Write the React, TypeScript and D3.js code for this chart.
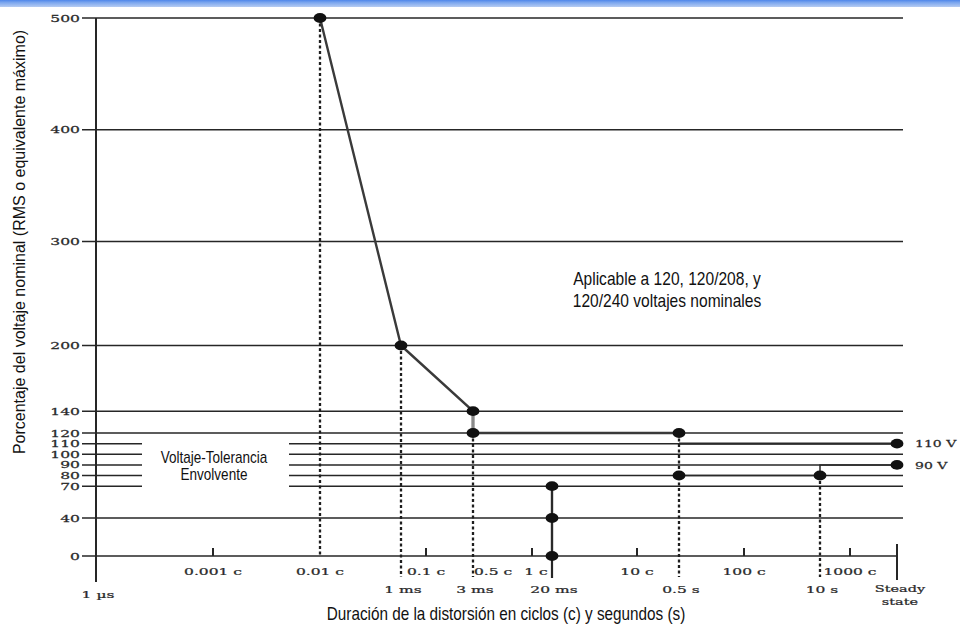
import React from "react";
import * as d3 from "d3";

// one cycle at 60 Hz, expressed in seconds
const CYCLE = 1 / 60;
// placeholder duration standing for "steady state"
const STEADY = 100;

const yTicks = [0, 40, 70, 80, 90, 100, 110, 120, 140, 200, 300, 400, 500];

const cycleTicks = [
  { c: 0.001, label: "0.001 c", tick: true },
  { c: 0.01, label: "0.01 c", tick: false },
  { c: 0.1, label: "0.1 c", tick: true },
  { c: 0.5, label: "0.5 c", tick: false },
  { c: 1, label: "1 c", tick: true },
  { c: 10, label: "10 c", tick: true },
  { c: 100, label: "100 c", tick: true },
  { c: 1000, label: "1000 c", tick: true },
];

const secondLabels = [
  { t: 1e-6, label: "1 µs" },
  { t: 1e-3, label: "1 ms" },
  { t: 3e-3, label: "3 ms" },
  { t: 0.02, label: "20 ms" },
  { t: 0.5, label: "0.5 s" },
  { t: 10, label: "10 s" },
];

// upper envelope (time in s, % of nominal)
const upperCurve: [number, number][] = [
  [0.01 * CYCLE, 500],
  [1e-3, 200],
  [3e-3, 140],
  [3e-3, 120],
  [0.5, 120],
];
const upperSteady: [number, number][] = [
  [0.5, 110],
  [STEADY, 110],
];
// lower envelope
const lowerDrop: [number, number][] = [
  [0.02, 0],
  [0.02, 70],
];
const lowerCurve: [number, number][] = [
  [0.5, 80],
  [10, 80],
  [10, 90],
  [STEADY, 90],
];

const dots: [number, number][] = [
  [0.01 * CYCLE, 500],
  [1e-3, 200],
  [3e-3, 140],
  [3e-3, 120],
  [0.5, 120],
  [STEADY, 110],
  [STEADY, 90],
  [0.5, 80],
  [10, 80],
  [0.02, 70],
  [0.02, 40],
  [0.02, 0],
];

// dotted drop lines: time, starting value, continue below axis
const drops = [
  { t: 0.01 * CYCLE, v: 500, below: false },
  { t: 1e-3, v: 200, below: true },
  { t: 3e-3, v: 120, below: true },
  { t: 0.5, v: 120, below: true },
  { t: 10, v: 80, below: true },
];

const endLabels = [
  { v: 110, label: "110 V" },
  { v: 90, label: "90 V" },
];

// non-uniform logarithmic time axis of the original figure (anchors)
const axisTimes = [
  1e-6, 0.001 * CYCLE, 0.01 * CYCLE, 1e-3, 0.1 * CYCLE, 3e-3, 0.5 * CYCLE,
  1 * CYCLE, 0.02, 10 * CYCLE, 0.5, 100 * CYCLE, 10, 1000 * CYCLE, STEADY,
];

export default function App() {
  const x = d3
    .scaleLog()
    .domain(axisTimes)
    .range([96, 213, 320, 401, 426, 473, 493, 532, 552, 637, 679, 744, 820, 850, 897]);
  const y = d3
    .scaleLinear()
    .domain([0, 40, 120, 200, 300, 500])
    .range([556, 518, 433, 345.5, 241.5, 18]);

  const line = d3
    .line<[number, number]>()
    .x((d) => x(d[0]))
    .y((d) => y(d[1]));

  const serif = "'DejaVu Serif', serif";
  const sans = "'Liberation Sans', Arial, sans-serif";
  const ink = "#262626";
  const labelInk = "#2a2a2a";
  const xLeft = 82;
  const xRight = 903;
  const yBelow = 577;

  const condensed = (cx: number, cy: number, size: number, sx: number, txt: string) => (
    <text
      transform={`translate(${cx},${cy}) scale(${sx},1)`}
      textAnchor="middle"
      fontFamily={sans}
      fontSize={size}
      fill="#111"
    >
      {txt}
    </text>
  );

  const serifProps = {
    fontFamily: serif,
    fill: labelInk,
    stroke: labelInk,
    strokeWidth: 0.25,
  };

  return (
    <div style={{ position: "absolute", left: 0, top: 0 }}>
      <svg width={960} height={625} style={{ display: "block", background: "#fff" }}>
        <defs>
          <linearGradient id="topbar" x1="0" y1="0" x2="0" y2="1">
            <stop offset="0" stopColor="#4f86ea" />
            <stop offset="0.35" stopColor="#7aa5ee" />
            <stop offset="1" stopColor="#b6ccf2" />
          </linearGradient>
        </defs>
        <rect x={0} y={0} width={960} height={7} fill="url(#topbar)" />

        {/* horizontal grid lines */}
        {yTicks.map((v) => (
          <line
            key={"g" + v}
            x1={xLeft}
            x2={v === 0 ? x(STEADY) : xRight}
            y1={y(v)}
            y2={y(v)}
            stroke={ink}
            strokeWidth={1.5}
          />
        ))}

        {/* white box that interrupts grid lines */}
        <rect x={142} y={437} width={147} height={54} fill="#fff" />

        {/* y axis */}
        <line x1={96} x2={96} y1={y(500)} y2={582} stroke={ink} strokeWidth={2} />

        {/* y tick labels */}
        {yTicks.map((v) => (
          <text
            key={"yl" + v}
            transform={`translate(80,${y(v) + 3.6}) scale(1.62,1)`}
            textAnchor="end"
            fontSize={9.6}
            {...serifProps}
          >
            {v}
          </text>
        ))}

        {/* x ticks (cycles) */}
        {cycleTicks
          .filter((d) => d.tick)
          .map((d) => (
            <line
              key={"xt" + d.c}
              x1={x(d.c * CYCLE)}
              x2={x(d.c * CYCLE)}
              y1={y(0)}
              y2={y(0) - 8}
              stroke={ink}
              strokeWidth={2}
            />
          ))}

        {/* steady state tick */}
        <line x1={x(STEADY)} x2={x(STEADY)} y1={544} y2={580} stroke={ink} strokeWidth={2} />

        {/* dotted drop lines */}
        {drops.map((d) => (
          <line
            key={"dr" + d.t}
            x1={x(d.t)}
            x2={x(d.t)}
            y1={y(d.v)}
            y2={d.below ? yBelow : y(0)}
            stroke="#1e1e1e"
            strokeWidth={2.3}
            strokeDasharray="3,2.5"
          />
        ))}

        {/* 20 ms solid drop */}
        <line x1={x(0.02)} x2={x(0.02)} y1={y(70)} y2={578} stroke={ink} strokeWidth={2.2} />

        {/* envelope curves */}
        <path d={line(upperCurve) || ""} fill="none" stroke="#3a3a3a" strokeWidth={2.4} />
        <path d={line(upperSteady) || ""} fill="none" stroke="#2a2a2a" strokeWidth={2.2} />
        <path d={line(lowerDrop) || ""} fill="none" stroke="#2a2a2a" strokeWidth={2.2} />
        <path d={line(lowerCurve) || ""} fill="none" stroke="#2a2a2a" strokeWidth={1.5} />
        <line
          x1={x(3e-3)}
          x2={x(3e-3)}
          y1={y(140)}
          y2={y(120)}
          stroke="#8a8a8a"
          strokeWidth={3}
        />

        {/* dots */}
        {dots.map((d, i) => (
          <ellipse key={"d" + i} cx={x(d[0])} cy={y(d[1])} rx={6.4} ry={4.9} fill="#111" />
        ))}

        {/* cycle labels */}
        {cycleTicks.map((d) => (
          <text
            key={"cl" + d.c}
            transform={`translate(${x(d.c * CYCLE) + (d.c === 1 ? 4 : 0)},574.5) scale(1.55,1)`}
            textAnchor="middle"
            fontSize={10}
            {...serifProps}
          >
            {d.label}
          </text>
        ))}

        {/* seconds labels */}
        {secondLabels.map((d) => (
          <text
            key={"sl" + d.t}
            transform={`translate(${x(d.t) + 2},${d.t === 1e-6 ? 598 : 593}) scale(1.55,1)`}
            textAnchor="middle"
            fontSize={10}
            {...serifProps}
          >
            {d.label}
          </text>
        ))}
        <text
          transform={`translate(${x(STEADY) + 3},592) scale(1.45,1)`}
          textAnchor="middle"
          fontSize={10}
          {...serifProps}
        >
          Steady
        </text>
        <text
          transform={`translate(${x(STEADY) + 3},605) scale(1.45,1)`}
          textAnchor="middle"
          fontSize={10}
          {...serifProps}
        >
          state
        </text>

        {/* right-end labels */}
        {endLabels.map((d) => (
          <text
            key={"el" + d.v}
            transform={`translate(915,${y(d.v) + 3.8}) scale(1.4,1)`}
            fontSize={10}
            {...serifProps}
          >
            {d.label}
          </text>
        ))}

        {/* annotations */}
        {condensed(667, 285, 18, 0.865, "Aplicable a 120, 120/208, y")}
        {condensed(667, 306.5, 18, 0.865, "120/240 voltajes nominales")}
        {condensed(214, 463, 16, 0.845, "Voltaje-Tolerancia")}
        {condensed(214, 480, 16, 0.845, "Envolvente")}

        {/* axis titles */}
        {condensed(506, 620, 18, 0.85, "Duración de la distorsión en ciclos (c) y segundos (s)")}
        <text
          transform="translate(25,242) rotate(-90)"
          textAnchor="middle"
          fontFamily={sans}
          fontSize={16}
          fill="#111"
        >
          Porcentaje del voltaje nominal (RMS o equivalente máximo)
        </text>
      </svg>
    </div>
  );
}
